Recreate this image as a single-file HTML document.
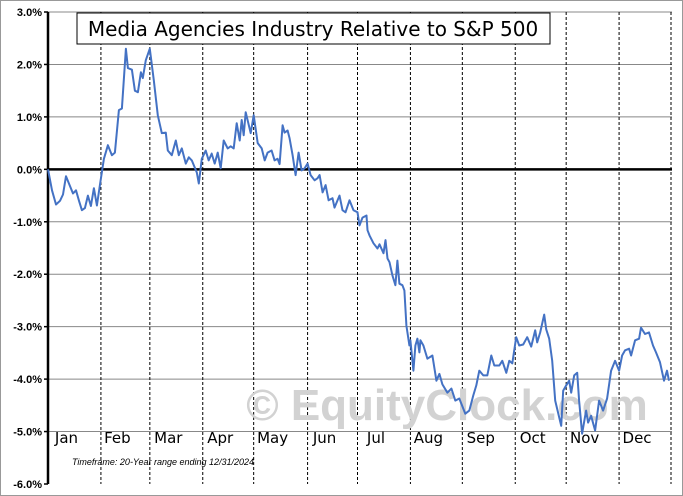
<!DOCTYPE html>
<html><head><meta charset="utf-8"><style>
body{margin:0;background:#fff;}
svg{display:block;font-family:"Liberation Sans",Arial,sans-serif;}
</style></head><body>
<svg id="chart" width="683" height="496">
<rect x="0.5" y="0.5" width="682" height="495" fill="#fff" stroke="#999"/>
<g id="grid"></g>
<text x="447" y="420" font-size="44" font-weight="bold" fill="#d2d2d2" text-anchor="middle">© EquityClock.com</text>
<g id="axes"></g>
<path id="line" fill="none" stroke="#4472c4" stroke-width="2" stroke-linejoin="round"/>
<rect x="77" y="13" width="473" height="31" fill="#fff" stroke="#000"/>
<text x="313" y="36" font-size="20" text-anchor="middle" fill="#000" style="font-family:'DejaVu Sans',sans-serif">Media Agencies Industry Relative to S&amp;P 500</text>
<text x="72" y="465" font-size="9" font-style="italic" fill="#000">Timeframe: 20-Year range ending 12/31/2024</text>
</svg>
<script>
const days=[0,1.6,3.2,4.8,6,7.2,8.8,10,11.2,12.4,13.6,14.8,16,17.2,18.4,19.6,20.8,22.4,24,25.6,26.8,28.4,29.6,31.2,32,33.6,34.8,36,37.2,38,39.2,40.8,42.4,44,45.6,47.2,48,49.6,51.2,52.4,53.6,55.2,56.4,57.6,59.6,60.4,61.6,63.2,64.4,65.6,66.8,68,69.2,70.4,72,73.2,74.4,75.6,76.8,77.6,78.4,79.2,81.2,82.4,84,85.6,86.8,88,89.6,90.8,92,92.8,94,94.8,96,96.8,98,99.2,100.4,101.6,102.8,104,105.2,106.8,108,108.8,110,111.2,112.4,114,114.8,116.8,118,119.2,120.8,122.4,124,124.8,126,127.6,128,128.8,130.4,132,132.8,134.4,135.2,136,136.8,138,139.2,140,140.8,142,142.8,143.6,144.8,145.2,146.4,147.2,148,148.8,149.2,150.4,152,154,155.6,156.8,158,160,161.6,163.2,164.8,167.2,168.8,170.4,171.6,172.8,174.4,176,177.6,178.8,180.8,182,183.6,184.8,186,187.6,188.8,190.4,192,193.6,195.2,196,197.2,198.8,199.6,200.8,202,203.2,205.6,206.4,207.6,208.8,209.6,210.8,212,212.8,214,215.6,216.4,217.6,219.2,220.8,222.4,224,225.6,227.2,228.8,230,231.2,232.8,233.6,235.2,236.8,237.6,239.2,240.8,242.4,243.6,245.2,246.8,248,248.8];
const values=[0,-0.4,-0.67,-0.6,-0.48,-0.13,-0.32,-0.46,-0.4,-0.6,-0.78,-0.74,-0.5,-0.7,-0.36,-0.69,-0.3,0.2,0.46,0.27,0.32,1.13,1.16,2.3,1.93,1.9,1.5,1.47,1.85,1.74,2.08,2.3,1.7,1.03,0.69,0.7,0.36,0.27,0.55,0.27,0.4,0.11,0.23,0.17,-0.06,-0.27,0.2,0.36,0.17,0.3,0.11,0.32,0.02,0.55,0.4,0.44,0.4,0.88,0.55,0.94,0.65,1.09,0.69,1.03,0.5,0.4,0.17,0.32,0.36,0.17,0.2,0.1,0.84,0.7,0.74,0.59,0.27,-0.11,0.32,-0.02,0.02,0.11,-0.11,-0.21,-0.17,-0.11,-0.44,-0.3,-0.59,-0.55,-0.73,-0.5,-0.78,-0.82,-0.59,-0.78,-0.82,-1.07,-0.92,-0.88,-1.16,-1.26,-1.41,-1.51,-1.43,-1.6,-1.35,-1.7,-1.77,-2.02,-2.21,-1.74,-2.18,-2.21,-2.31,-2.98,-3.36,-3.26,-3.84,-3.36,-3.23,-3.49,-3.26,-3.36,-3.61,-3.55,-4.03,-3.9,-4.1,-4.26,-4.18,-4.41,-4.37,-4.66,-4.6,-4.31,-4.12,-3.84,-3.93,-3.93,-3.55,-3.74,-3.74,-3.65,-3.88,-3.65,-3.7,-3.2,-3.36,-3.34,-3.2,-3.38,-3.07,-3.3,-3.11,-2.77,-3.05,-3.23,-3.65,-4.41,-4.89,-4.22,-4.12,-4.03,-4.26,-3.93,-3.88,-4.41,-5.04,-4.6,-4.83,-4.7,-4.98,-4.41,-4.6,-4.37,-3.84,-3.65,-3.84,-3.55,-3.45,-3.42,-3.55,-3.26,-3.23,-3.02,-3.14,-3.11,-3.36,-3.49,-3.68,-4.03,-3.84,-4.03];
const yTicks=[3,2,1,0,-1,-2,-3,-4,-5,-6];
const monthNames=["Jan","Feb","Mar","Apr","May","Jun","Jul","Aug","Sep","Oct","Nov","Dec"];
const monthStarts=[0,21.2,40.8,62,82.4,104,124,145.2,166,187.2,207.6,228.8,249.6];

const X0=48,X1=672,Y0=12,Y1=484,DMAX=250,VMAX=3,VMIN=-6;
const xs=d=>X0+d/DMAX*(X1-X0);
const ys=v=>Y0+(VMAX-v)/(VMAX-VMIN)*(Y1-Y0);
const NS="http://www.w3.org/2000/svg";
function mk(tag,attrs,parent){const e=document.createElementNS(NS,tag);for(const k in attrs)e.setAttribute(k,attrs[k]);parent.appendChild(e);return e;}
const grid=document.getElementById('grid'),axes=document.getElementById('axes');
yTicks.forEach(t=>{
  if(t!==0&&t!==VMIN){const l=mk('line',{x1:X0,x2:X1,y1:ys(t),y2:ys(t),stroke:'#888','stroke-width':1},grid);
  
  }
  const tx=mk('text',{x:42,y:ys(t)+4,'font-size':11,'font-weight':'bold','text-anchor':'end'},axes);
  tx.textContent=t.toFixed(1)+'%';
  
  
});
monthStarts.forEach((d,i)=>{
  if(i>0){const l=mk('line',{x1:xs(d),x2:xs(d),y1:Y0,y2:Y1,stroke:'#000','stroke-width':1,'stroke-dasharray':'3,2'},grid);
  
  }
  if(i<12){const tx=mk('text',{x:(xs(d)+xs(monthStarts[i+1]))/2-8,y:443,'font-size':15,'text-anchor':'middle',style:"font-family:'DejaVu Sans',sans-serif"},axes);
  tx.textContent=monthNames[i];
  
  }
});
const za=mk('line',{x1:X0,x2:X1,y1:ys(0),y2:ys(0),stroke:'#000','stroke-width':2.5},axes);


const ya=mk('line',{x1:X0,x2:X0,y1:Y0,y2:Y1,stroke:'#000','stroke-width':2.5},axes);


yTicks.forEach(t=>{mk('line',{x1:X0-4,x2:X0,y1:ys(t),y2:ys(t),stroke:'#000','stroke-width':1.5},axes);});
document.getElementById('line').setAttribute('d',days.map((d,i)=>(i?'L':'M')+xs(d).toFixed(1)+','+ys(values[i]).toFixed(1)).join(''));
</script>
</body></html>
